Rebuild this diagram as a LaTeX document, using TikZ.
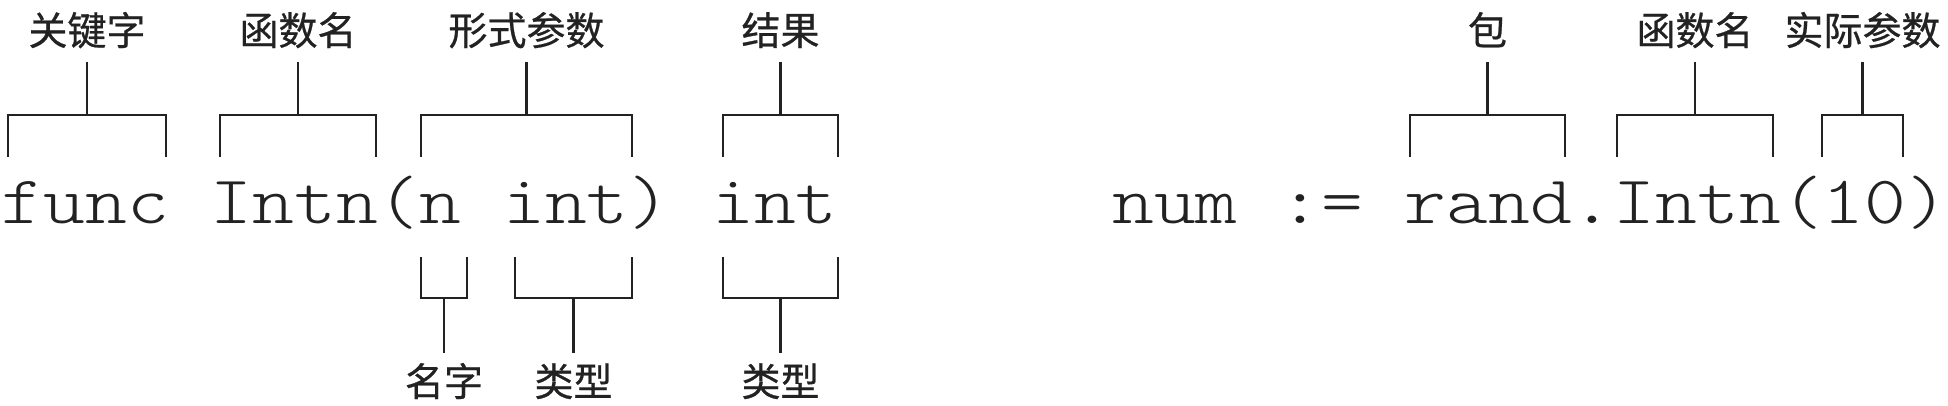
\documentclass[tikz,border=0pt]{standalone}
\usepackage{fontspec}
\newfontfamily\cjk[FakeBold=0.6]{Noto Sans CJK SC}
\newfontfamily\codefont[Extension=.otf,FakeStretch=1.171]{lmmonolt10-regular}
\definecolor{ink}{HTML}{222222}
\tikzset{
  br/.style={draw=ink,line width=2.5pt,line join=miter},
  lab/.style={font=\cjk\fontsize{39}{39}\selectfont,text=ink,inner sep=0pt,anchor=base},
  code/.style={font=\codefont\fontsize{68}{68}\selectfont\frenchspacing,text=ink,inner sep=0pt,anchor=base west}
}
% #1 name, #2 left x, #3 right x, #4 label
\newcommand\topbr[4]{%
  \node[lab] (#1) at ({(#2+#3)/2},45) {#4};
  \draw[br] (#2,157) -- (#2,115) -- (#3,115) -- (#3,157);
  \coordinate (#1a) at (0,62);
  \coordinate (#1b) at (0,115);
  \draw[br] (#1.base |- #1a) -- (#1.base |- #1b);
}
\newcommand\botbr[4]{%
  \node[lab] (#1) at ({(#2+#3)/2},396) {#4};
  \draw[br] (#2,257) -- (#2,298) -- (#3,298) -- (#3,257);
  \coordinate (#1a) at (0,298);
  \coordinate (#1b) at (0,353);
  \draw[br] (#1.base |- #1a) -- (#1.base |- #1b);
}
\begin{document}
\begin{tikzpicture}[x=1pt,y=-1pt]
\useasboundingbox[fill=white] (0,0) rectangle (1948,406);
\node[code] (sig) at (1.5,223) {func Intn(n int) int};
\node[code] (call) at (1112,223) {num := rand.Intn(10)};
\topbr{kw}{8}{166}{关键字}
\topbr{fn}{220}{376}{函数名}
\topbr{fp}{421}{632}{形式参数}
\topbr{res}{723}{838}{结果}
\topbr{pkg}{1410}{1565}{包}
\topbr{fnb}{1617}{1773}{函数名}
\topbr{ap}{1822}{1903}{实际参数}
\botbr{nm}{421}{467}{名字}
\botbr{ty}{515}{632}{类型}
\botbr{rty}{723}{838}{类型}
\end{tikzpicture}
\end{document}
